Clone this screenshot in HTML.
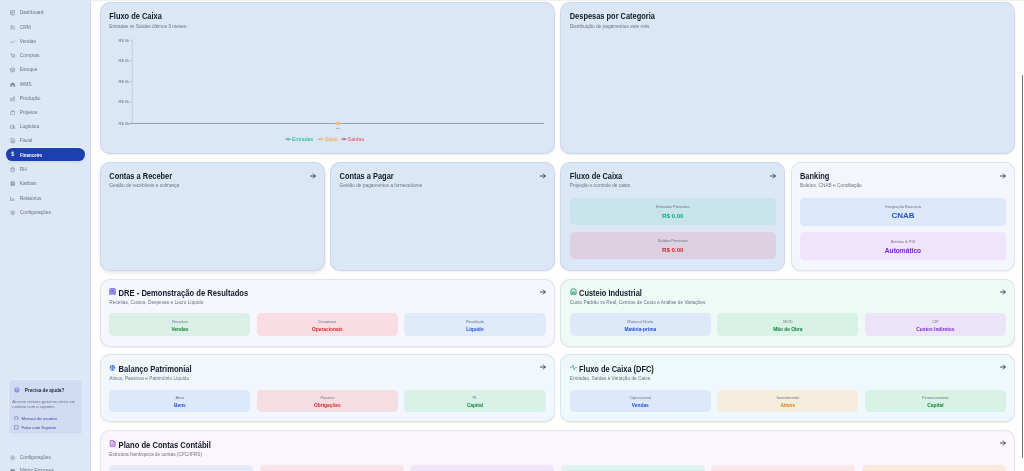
<!DOCTYPE html>
<html lang="pt-BR"><head><meta charset="utf-8"><title>Financeiro</title>
<style>
*{box-sizing:border-box;margin:0;padding:0}
html,body{width:1024px;height:471px;overflow:hidden;background:#fdfdfe;font-family:"Liberation Sans",Arial,sans-serif;color:#111827}
.abs{position:absolute}
.sb{position:absolute;left:0;top:0;width:90.6px;height:471px;background:#dce7f7;border-right:1.6px solid #d6dcee}
.ni{position:absolute;left:0;width:90px;height:12px;line-height:12px;font-size:4.85px;color:#6b7280;white-space:nowrap}
.ni .ic{position:absolute;left:9.6px;top:3.3px;width:5.4px;height:5.4px}
.ni .tx{position:absolute;left:19.7px;top:0}
.ni.act{left:5.7px;width:79.1px;height:12.7px;line-height:12.7px;background:#1e3fae;border-radius:6.4px;color:#fff;font-weight:bold;font-size:4.45px;box-shadow:0 0 0 1.2px rgba(255,255,255,.35),0 1px 2px rgba(30,64,175,.25)}
.ni.act .ic{left:4.4px;top:3.6px}
.ni.act .tx{left:14.2px;top:2.2px}
.help{position:absolute;left:7.6px;top:378.8px;width:75px;height:56.2px;background:#d1dbf2;border-radius:5px;border:0.8px solid rgba(255,255,255,.45);box-shadow:0 1px 2px rgba(60,70,120,.06)}
.topline{position:absolute;left:91px;top:0;width:933px;height:1px;background:#eef0f1}
.card{position:absolute;border:0.8px solid rgba(145,152,170,.19);border-radius:10px;box-shadow:0 0.8px 1.6px rgba(0,0,0,.07)}
.ttl{position:absolute;left:8.5px;top:10.0px;font-size:7.45px;line-height:8px;font-weight:bold;color:#111827;white-space:nowrap;transform:scaleY(1.1);transform-origin:0 0}
.sub{position:absolute;left:8.5px;top:21.2px;font-size:4.78px;line-height:6px;color:#6b7280;white-space:nowrap;transform:scaleY(1.1);transform-origin:0 0}
.arr{position:absolute;width:6px;height:6px}
.bx{position:absolute;border-radius:4.4px;text-align:center}
.bx .l{position:absolute;left:0;right:0;font-size:4px;line-height:5px;color:#6b7280;white-space:nowrap}
.bx .v{position:absolute;left:0;right:0;font-size:4.85px;line-height:6px;font-weight:bold;white-space:nowrap}
.ax{font-size:4.05px;fill:#6b7280;font-family:"Liberation Sans",Arial,sans-serif}
.lg{font-size:5.3px;font-family:"Liberation Sans",Arial,sans-serif}
</style></head>
<body>
<div id="root" style="position:absolute;left:0;top:0;width:1024px;height:471px;overflow:hidden;background:#fefefe;filter:blur(0.3px)">
<div class="sb">
<div class="ni" style="top:6.90px"><svg class="ic" viewBox="0 0 10 10"><rect x="1" y="1" width="8" height="8" rx="1" fill="none" stroke="#7b8494" stroke-width="1.1"/><path d="M1 4h8M4 4v5" fill="none" stroke="#7b8494" stroke-width="1.1"/></svg><span class="tx">Dashboard</span></div>
<div class="ni" style="top:21.75px"><svg class="ic" viewBox="0 0 10 10"><circle cx="3.5" cy="3" r="1.8" fill="none" stroke="#7b8494" stroke-width="1.1"/><path d="M0.5 9c0-2 1.4-3.2 3-3.2s3 1.2 3 3.2M7 1.5a1.8 1.8 0 0 1 0 3.4M8 6c1 .4 1.5 1.5 1.5 3" fill="none" stroke="#7b8494" stroke-width="1.1"/></svg><span class="tx">CRM</span></div>
<div class="ni" style="top:35.90px"><svg class="ic" viewBox="0 0 10 10"><path d="M0.5 8l3-3 2 2 4-4.5" fill="none" stroke="#7b8494" stroke-width="1.1"/></svg><span class="tx">Vendas</span></div>
<div class="ni" style="top:49.65px"><svg class="ic" viewBox="0 0 10 10"><path d="M1 1h1.5l1.2 5.5h4.8L9.3 3H3" fill="none" stroke="#7b8494" stroke-width="1.1"/><circle cx="4" cy="8.5" r=".8" fill="#7b8494"/><circle cx="8" cy="8.5" r=".8" fill="#7b8494"/></svg><span class="tx">Compras</span></div>
<div class="ni" style="top:63.90px"><svg class="ic" viewBox="0 0 10 10"><path d="M1 3.5L5 1.5l4 2v4L5 9.5l-4-2z M1 3.5l4 2 4-2M5 5.5v4" fill="none" stroke="#7b8494" stroke-width="1.1"/></svg><span class="tx">Estoque</span></div>
<div class="ni" style="top:78.75px"><svg class="ic" viewBox="0 0 10 10"><path d="M0.8 9V3.5L5 1l4.2 2.5V9z" fill="#7b8494"/><rect x="3" y="5.5" width="4" height="3.5" fill="#c8d2e6"/></svg><span class="tx">WMS</span></div>
<div class="ni" style="top:92.85px"><svg class="ic" viewBox="0 0 10 10"><path d="M1 9V4l3 2V4l3 2V1.5h2V9z" fill="none" stroke="#7b8494" stroke-width="1.1"/></svg><span class="tx">Produção</span></div>
<div class="ni" style="top:106.65px"><svg class="ic" viewBox="0 0 10 10"><rect x="1" y="3" width="8" height="6" rx="1" fill="none" stroke="#7b8494" stroke-width="1.1"/><path d="M3.5 3V1.5h3V3" fill="none" stroke="#7b8494" stroke-width="1.1"/></svg><span class="tx">Projetos</span></div>
<div class="ni" style="top:120.90px"><svg class="ic" viewBox="0 0 10 10"><path d="M0.8 2.5h5.5v5H0.8zM6.3 4.5h2l1.2 1.5v1.5H6.3" fill="none" stroke="#7b8494" stroke-width="1.1"/><circle cx="2.5" cy="8.3" r=".9" fill="#7b8494"/><circle cx="7.8" cy="8.3" r=".9" fill="#7b8494"/></svg><span class="tx">Logística</span></div>
<div class="ni" style="top:135.15px"><svg class="ic" viewBox="0 0 10 10"><path d="M2 1h4.5L8.5 3v6H2z" fill="none" stroke="#7b8494" stroke-width="1.1"/><path d="M3.5 4.5h3.5M3.5 6.5h3.5" fill="none" stroke="#7b8494" stroke-width="1.1"/></svg><span class="tx">Fiscal</span></div>
<div class="ni act" style="top:147.90px"><svg class="ic" viewBox="0 0 10 10"><path d="M5 0.5v9M7.5 2.5H4a1.5 1.5 0 0 0 0 3h2a1.5 1.5 0 0 1 0 3H2.5" fill="none" stroke="#fff" stroke-width="1.2"/></svg><span class="tx">Financeiro</span></div>
<div class="ni" style="top:164.15px"><svg class="ic" viewBox="0 0 10 10"><circle cx="5" cy="5" r="4" fill="none" stroke="#7b8494" stroke-width="1.1"/><circle cx="5" cy="4" r="1.4" fill="none" stroke="#7b8494" stroke-width="1.1"/></svg><span class="tx">RH</span></div>
<div class="ni" style="top:177.90px"><svg class="ic" viewBox="0 0 10 10"><rect x="1" y="1" width="8" height="8" rx="1" fill="#8b93a3"/><path d="M1 4h8M4 1v8M7 1v8" stroke="#c8d2e6" stroke-width=".7"/></svg><span class="tx">Kanban</span></div>
<div class="ni" style="top:192.60px"><svg class="ic" viewBox="0 0 10 10"><path d="M1 1v8h8" fill="none" stroke="#7b8494" stroke-width="1.1"/><path d="M3.5 7V5M5.5 7V3.5M7.5 7V5.5" fill="none" stroke="#7b8494" stroke-width="1.1"/></svg><span class="tx">Relatórios</span></div>
<div class="ni" style="top:206.95px"><svg class="ic" viewBox="0 0 10 10"><circle cx="5" cy="5" r="3.5" fill="none" stroke="#7b8494" stroke-width="1.1"/><circle cx="5" cy="5" r="1.3" fill="#7b8494"/></svg><span class="tx">Configurações</span></div>
<div class="help">
<svg class="abs" style="left:5.7px;top:7.6px;width:5.8px;height:5.8px" viewBox="0 0 10 10"><circle cx="5" cy="5" r="4.5" fill="#8f97e8"/><path d="M3.6 3.8a1.5 1.5 0 1 1 1.8 1.5v1" fill="none" stroke="#dfe4fb" stroke-width="1"/></svg>
<div class="abs" style="left:16.2px;top:8.2px;font-size:4.65px;line-height:6px;font-weight:bold;color:#1f2540;white-space:nowrap">Precisa de ajuda?</div>
<div class="abs" style="left:3.7px;top:19.6px;font-size:4.22px;line-height:5px;color:#6b7280;white-space:nowrap">Acesse nossos guias ou entre em<br>contato com o suporte.</div>
<svg class="abs" style="left:5.6px;top:35.8px;width:4.6px;height:4.6px" viewBox="0 0 10 10"><circle cx="5" cy="5" r="4" fill="none" stroke="#5b64a8" stroke-width="1.2"/></svg>
<div class="abs" style="left:13px;top:35.8px;font-size:4.3px;line-height:5px;color:#3a4599;white-space:nowrap">Manual do usuário</div>
<svg class="abs" style="left:5.6px;top:45.6px;width:4.6px;height:4.6px" viewBox="0 0 10 10"><rect x="1" y="1" width="8" height="8" rx="1" fill="none" stroke="#5b64a8" stroke-width="1.2"/></svg>
<div class="abs" style="left:13px;top:45.2px;font-size:4.2px;line-height:5px;color:#3a4599;white-space:nowrap">Falar com Suporte</div>
</div>
<div class="ni" style="top:451.80px"><svg class="ic" viewBox="0 0 10 10"><circle cx="5" cy="5" r="3.5" fill="none" stroke="#7b8494" stroke-width="1.1"/><circle cx="5" cy="5" r="1.3" fill="#7b8494"/></svg><span class="tx">Configurações</span></div>
<div class="ni" style="top:464.50px"><svg class="ic" viewBox="0 0 10 10"><rect x="1" y="2" width="8" height="7" fill="#8b93a3"/></svg><span class="tx">Minha Empresa</span></div>
</div>
<div class="topline"></div>
<div class="card" style="left:100.00px;top:2.30px;width:454.85px;height:151.60px;background:#dbe7f7;"></div>
<div class="card" style="left:560.45px;top:2.30px;width:454.85px;height:151.60px;background:#dbe7f7;"></div>
<div class="card" style="left:100.00px;top:162.30px;width:224.62px;height:108.40px;background:#dbe7f7;box-shadow:0 1.6px 4px rgba(0,0,0,.10)"></div>
<div class="card" style="left:330.23px;top:162.30px;width:224.62px;height:108.40px;background:#dbe7f7;"></div>
<div class="card" style="left:560.45px;top:162.30px;width:224.62px;height:108.40px;background:#dbe7f7;"></div>
<div class="card" style="left:790.67px;top:162.30px;width:224.62px;height:108.40px;background:#f3f6fd;"></div>
<div class="card" style="left:100.00px;top:278.80px;width:454.85px;height:67.90px;background:#f6f6fd;"></div>
<div class="card" style="left:560.45px;top:278.80px;width:454.85px;height:67.90px;background:#eff9f6;"></div>
<div class="card" style="left:100.00px;top:353.90px;width:454.85px;height:68.40px;background:#f2f6fd;"></div>
<div class="card" style="left:560.45px;top:353.90px;width:454.85px;height:68.40px;background:#eff8fc;"></div>
<div class="card" style="left:100.00px;top:430.00px;width:915.30px;height:65.00px;background:#fbf5fd;"></div>
<div class="ttl" style="left:109.30px;top:11.80px;">Fluxo de Caixa</div><div class="sub" style="left:109.30px;top:24.00px">Entradas vs Saídas últimos 3 meses</div>
<div class="ttl" style="left:569.75px;top:11.80px;">Despesas por Categoria</div><div class="sub" style="left:569.75px;top:24.00px">Distribuição de pagamentos este mês</div>
<svg class="abs" style="left:0;top:0;width:1024px;height:160px;overflow:visible" viewBox="0 0 1024 160">
<text class="ax" x="129.1" y="41.65" text-anchor="end">R$ 0k</text>
<line x1="129.8" y1="40.20" x2="132.3" y2="40.20" stroke="#a9b3c3" stroke-width="0.6"/>
<text class="ax" x="129.1" y="62.15" text-anchor="end">R$ 0k</text>
<line x1="129.8" y1="60.70" x2="132.3" y2="60.70" stroke="#a9b3c3" stroke-width="0.6"/>
<text class="ax" x="129.1" y="82.75" text-anchor="end">R$ 0k</text>
<line x1="129.8" y1="81.30" x2="132.3" y2="81.30" stroke="#a9b3c3" stroke-width="0.6"/>
<text class="ax" x="129.1" y="103.45" text-anchor="end">R$ 0k</text>
<line x1="129.8" y1="102.00" x2="132.3" y2="102.00" stroke="#a9b3c3" stroke-width="0.6"/>
<text class="ax" x="129.1" y="124.65" text-anchor="end">R$ 0k</text>
<line x1="129.8" y1="123.20" x2="132.3" y2="123.20" stroke="#a9b3c3" stroke-width="0.6"/>
<line x1="132.3" y1="39.6" x2="132.3" y2="123.5" stroke="#b9c2d0" stroke-width="0.7"/>
<line x1="129" y1="123.5" x2="544.1" y2="123.5" stroke="#8e99ab" stroke-width="0.9"/>
<line x1="336" y1="128.4" x2="339.7" y2="128.4" stroke="#9aa3b2" stroke-width="0.8"/>
<circle cx="337.8" cy="123.5" r="2.0" fill="#f4bd7e"/>
<line x1="285.3" y1="139.2" x2="290.8" y2="139.2" stroke="#0e9f6e" stroke-width="0.7"/><circle cx="288.05" cy="139.2" r="1.0" fill="#fff" stroke="#0e9f6e" stroke-width="0.7"/>
<text class="lg" x="292" y="141.1" fill="#10b981">Entradas</text>
<line x1="317.8" y1="139.2" x2="323.3" y2="139.2" stroke="#e39a2c" stroke-width="0.7"/><circle cx="320.55" cy="139.2" r="1.0" fill="#fff" stroke="#e39a2c" stroke-width="0.7"/>
<text class="lg" x="324.4" y="141.1" fill="#f5a524">Saldo</text>
<line x1="341.2" y1="139.2" x2="346.7" y2="139.2" stroke="#b83250" stroke-width="0.7"/><circle cx="343.95" cy="139.2" r="1.0" fill="#fff" stroke="#b83250" stroke-width="0.7"/>
<text class="lg" x="347.6" y="141.1" fill="#f43f5e">Saídas</text>
</svg>
<div class="ttl" style="left:109.30px;top:172.20px;">Contas a Receber</div><div class="sub" style="left:109.30px;top:183.40px">Gestão de recebíveis e cobrança</div>
<div class="ttl" style="left:339.53px;top:172.20px;">Contas a Pagar</div><div class="sub" style="left:339.53px;top:183.40px">Gestão de pagamentos a fornecedores</div>
<div class="ttl" style="left:569.75px;top:172.20px;">Fluxo de Caixa</div><div class="sub" style="left:569.75px;top:183.40px">Projeção e controle de caixa</div>
<div class="ttl" style="left:799.97px;top:172.20px;">Banking</div><div class="sub" style="left:799.97px;top:183.40px">Boletos, CNAB e Conciliação</div>
<div class="bx" style="left:569.75px;top:197.70px;width:206.03px;height:27.00px;background:#c8e4eb"><div class="l" style="top:6.30px">Entradas Previstas</div><div class="v" style="top:14.20px;font-size:6.1px;line-height:8px;color:#10a37f">R$ 0.00</div></div>
<div class="bx" style="left:569.75px;top:231.60px;width:206.03px;height:27.00px;background:#dcd0e1"><div class="l" style="top:6.90px">Saídas Previstas</div><div class="v" style="top:14.30px;font-size:6.1px;line-height:8px;color:#dc2626">R$ 0.00</div></div>
<div class="bx" style="left:799.97px;top:197.90px;width:206.03px;height:28.10px;background:#dde9fb"><div class="l" style="top:6.10px">Integração Bancária</div><div class="v" style="top:14.00px;font-size:8.0px;line-height:8px;color:#2456b8">CNAB</div></div>
<div class="bx" style="left:799.97px;top:232.40px;width:206.03px;height:28.10px;background:#efe4fb"><div class="l" style="top:6.50px">Boletos &amp; PIX</div><div class="v" style="top:14.20px;font-size:6.6px;line-height:8px;color:#7e22ce">Automático</div></div>
<svg class="arr" style="left:309.5px;top:172.6px" viewBox="0 0 6 6"><path d="M0.4 3H5.3M3.2 0.9L5.3 3 3.2 5.1" fill="none" stroke="#111827" stroke-width="0.75" stroke-linecap="round" stroke-linejoin="round"/></svg>
<svg class="arr" style="left:539.8px;top:172.6px" viewBox="0 0 6 6"><path d="M0.4 3H5.3M3.2 0.9L5.3 3 3.2 5.1" fill="none" stroke="#111827" stroke-width="0.75" stroke-linecap="round" stroke-linejoin="round"/></svg>
<svg class="arr" style="left:770.0px;top:172.6px" viewBox="0 0 6 6"><path d="M0.4 3H5.3M3.2 0.9L5.3 3 3.2 5.1" fill="none" stroke="#111827" stroke-width="0.75" stroke-linecap="round" stroke-linejoin="round"/></svg>
<svg class="arr" style="left:1000.2px;top:172.6px" viewBox="0 0 6 6"><path d="M0.4 3H5.3M3.2 0.9L5.3 3 3.2 5.1" fill="none" stroke="#111827" stroke-width="0.75" stroke-linecap="round" stroke-linejoin="round"/></svg>
<svg class="abs" style="left:109.40px;top:288.00px;width:7px;height:7px" viewBox="0 0 10 10"><path d="M2 0.8h6a1 1 0 0 1 1 1v7.6l-1.4-.9-1.3.9-1.3-.9-1.3.9-1.3-.9L1 9.4V1.8a1 1 0 0 1 1-1z" fill="#a59cf0" stroke="#7466dd" stroke-width="1.1" stroke-linejoin="round"/><path d="M3.2 3.3h3.6M3.2 5.6h3.6" stroke="#5b4fd0" stroke-width="1.1"/></svg><div class="ttl" style="left:118.60px;top:289.20px;font-size:7.6px;">DRE - Demonstração de Resultados</div><div class="sub" style="left:109.30px;top:300.40px">Receitas, Custos, Despesas e Lucro Líquido</div>
<svg class="abs" style="left:569.85px;top:288.00px;width:7px;height:7px" viewBox="0 0 10 10"><path d="M1.2 9V4.2C1.2 2.2 2.8 1 5 1s3.8 1.2 3.8 3.2V9z" fill="#bfe9d8" stroke="#3a9775" stroke-width="1.2" stroke-linejoin="round"/><path d="M3.8 9V5.6h2.4V9" fill="none" stroke="#3a9775" stroke-width="1"/></svg><div class="ttl" style="left:579.05px;top:289.20px;">Custeio Industrial</div><div class="sub" style="left:569.75px;top:300.40px">Custo Padrão vs Real, Centros de Custo e Análise de Variações</div>
<svg class="abs" style="left:109.40px;top:363.50px;width:7px;height:7px" viewBox="0 0 10 10"><circle cx="5" cy="5.3" r="4" fill="#b6cdf5"/><path d="M5 1v8M2.5 8.8h5M1.5 3h7" stroke="#3f73d8" stroke-width="1.1" fill="none"/><path d="M0.7 6.2l1.5-3 1.5 3zM6.3 6.2l1.5-3 1.5 3z" fill="#3f73d8"/></svg><div class="ttl" style="left:118.60px;top:364.70px;font-size:7.6px;">Balanço Patrimonial</div><div class="sub" style="left:109.30px;top:375.90px">Ativos, Passivos e Patrimônio Líquido</div>
<svg class="abs" style="left:569.85px;top:363.50px;width:7px;height:7px" viewBox="0 0 10 10"><path d="M0.4 5.2h2.1l1.5-3.8 2 7.2 1.5-3.4h2.1" fill="none" stroke="#4fb3a6" stroke-width="1.2" stroke-linejoin="round" stroke-linecap="round"/></svg><div class="ttl" style="left:579.05px;top:364.70px;">Fluxo de Caixa (DFC)</div><div class="sub" style="left:569.75px;top:375.90px">Entradas, Saídas e Variação de Caixa</div>
<svg class="abs" style="left:109.40px;top:439.60px;width:7px;height:7px" viewBox="0 0 10 10"><path d="M1.8 0.8h4.4L8.8 3.4V9.2H1.8z" fill="#e2c6f7" stroke="#a45ee0" stroke-width="1.1" stroke-linejoin="round"/><path d="M6 0.8v2.8h2.8" fill="#8a3fc9"/><path d="M3.4 6.6h3.6" stroke="#a45ee0" stroke-width="1"/></svg><div class="ttl" style="left:118.60px;top:440.80px;font-size:7.62px;">Plano de Contas Contábil</div><div class="sub" style="left:109.30px;top:452.00px">Estrutura hierárquica de contas (CFC/IFRS)</div>
<div class="bx" style="left:109.30px;top:313.20px;width:141.15px;height:23.30px;background:#daf0e6"><div class="l" style="top:5.80px">Receitas</div><div class="v" style="top:13.70px;color:#15803d">Vendas</div></div>
<div class="bx" style="left:256.85px;top:313.20px;width:141.15px;height:23.30px;background:#f8dde4"><div class="l" style="top:5.80px">Despesas</div><div class="v" style="top:13.70px;color:#dc2626">Operacionais</div></div>
<div class="bx" style="left:404.40px;top:313.20px;width:141.15px;height:23.30px;background:#dfeafb"><div class="l" style="top:5.80px">Resultado</div><div class="v" style="top:13.70px;color:#1d4ed8">Líquido</div></div>
<div class="bx" style="left:569.75px;top:313.20px;width:141.15px;height:23.30px;background:#dde9f8"><div class="l" style="top:5.80px">Material Direto</div><div class="v" style="top:13.70px;color:#1d4ed8">Matéria-prima</div></div>
<div class="bx" style="left:717.30px;top:313.20px;width:141.15px;height:23.30px;background:#d8f2e5"><div class="l" style="top:5.80px">MOD</div><div class="v" style="top:13.70px;color:#15803d">Mão de Obra</div></div>
<div class="bx" style="left:864.85px;top:313.20px;width:141.15px;height:23.30px;background:#ebe4f9"><div class="l" style="top:5.80px">CIF</div><div class="v" style="top:13.70px;color:#7e22ce">Custos Indiretos</div></div>
<div class="bx" style="left:109.30px;top:389.70px;width:141.15px;height:22.70px;background:#dde9fa"><div class="l" style="top:5.60px">Ativo</div><div class="v" style="top:13.20px;color:#1d4ed8">Bens</div></div>
<div class="bx" style="left:256.85px;top:389.70px;width:141.15px;height:22.70px;background:#f6dde3"><div class="l" style="top:5.60px">Passivo</div><div class="v" style="top:13.20px;color:#dc2626">Obrigações</div></div>
<div class="bx" style="left:404.40px;top:389.70px;width:141.15px;height:22.70px;background:#d9f1e7"><div class="l" style="top:5.60px">PL</div><div class="v" style="top:13.20px;color:#15803d">Capital</div></div>
<div class="bx" style="left:569.75px;top:389.70px;width:141.15px;height:22.70px;background:#dde9fa"><div class="l" style="top:5.60px">Operacional</div><div class="v" style="top:13.20px;color:#1d4ed8">Vendas</div></div>
<div class="bx" style="left:717.30px;top:389.70px;width:141.15px;height:22.70px;background:#f5eedf"><div class="l" style="top:5.60px">Investimento</div><div class="v" style="top:13.20px;color:#d97706">Ativos</div></div>
<div class="bx" style="left:864.85px;top:389.70px;width:141.15px;height:22.70px;background:#d9f2e6"><div class="l" style="top:5.60px">Financiamento</div><div class="v" style="top:13.20px;color:#15803d">Capital</div></div>
<div class="bx" style="left:109.30px;top:465.40px;width:144.12px;height:24.00px;background:#e3ebfb"></div>
<div class="bx" style="left:259.82px;top:465.40px;width:144.12px;height:24.00px;background:#fae3ea"></div>
<div class="bx" style="left:410.33px;top:465.40px;width:144.12px;height:24.00px;background:#f0e6fb"></div>
<div class="bx" style="left:560.85px;top:465.40px;width:144.12px;height:24.00px;background:#dff3ee"></div>
<div class="bx" style="left:711.37px;top:465.40px;width:144.12px;height:24.00px;background:#fbe5e7"></div>
<div class="bx" style="left:861.88px;top:465.40px;width:144.12px;height:24.00px;background:#fce8df"></div>
<svg class="arr" style="left:539.5px;top:289.0px" viewBox="0 0 6 6"><path d="M0.4 3H5.3M3.2 0.9L5.3 3 3.2 5.1" fill="none" stroke="#111827" stroke-width="0.75" stroke-linecap="round" stroke-linejoin="round"/></svg>
<svg class="arr" style="left:1000.0px;top:289.0px" viewBox="0 0 6 6"><path d="M0.4 3H5.3M3.2 0.9L5.3 3 3.2 5.1" fill="none" stroke="#111827" stroke-width="0.75" stroke-linecap="round" stroke-linejoin="round"/></svg>
<svg class="arr" style="left:539.5px;top:364.1px" viewBox="0 0 6 6"><path d="M0.4 3H5.3M3.2 0.9L5.3 3 3.2 5.1" fill="none" stroke="#111827" stroke-width="0.75" stroke-linecap="round" stroke-linejoin="round"/></svg>
<svg class="arr" style="left:1000.0px;top:364.1px" viewBox="0 0 6 6"><path d="M0.4 3H5.3M3.2 0.9L5.3 3 3.2 5.1" fill="none" stroke="#111827" stroke-width="0.75" stroke-linecap="round" stroke-linejoin="round"/></svg>
<svg class="arr" style="left:1000.0px;top:440.2px" viewBox="0 0 6 6"><path d="M0.4 3H5.3M3.2 0.9L5.3 3 3.2 5.1" fill="none" stroke="#111827" stroke-width="0.75" stroke-linecap="round" stroke-linejoin="round"/></svg>
<div class="abs" style="left:1021.8px;top:75.3px;width:1.3px;height:383px;background:#6b6f76;border-radius:1px"></div>
</div>
</body></html>
